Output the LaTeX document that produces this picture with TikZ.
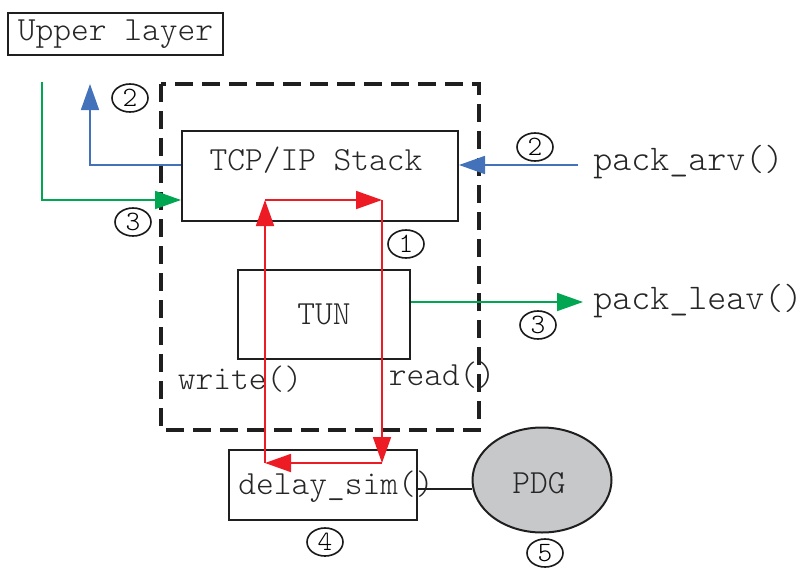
\documentclass[tikz,border=0pt]{standalone}
\usepackage{fontspec}
\setmonofont{Latin Modern Mono Light}
\usetikzlibrary{arrows.meta,positioning,shapes.geometric}
\definecolor{flowRed}{RGB}{237,28,36}
\definecolor{flowBlue}{RGB}{68,114,186}
\definecolor{flowGreen}{RGB}{0,166,81}
\definecolor{pdgGray}{RGB}{199,200,202}
\tikzset{
  blockbox/.style={draw=black!88,line width=1pt,inner sep=0pt,text=black!85,font=\ttfamily\fontsize{16.9}{18}\selectfont},
  calllabel/.style={inner sep=0pt,text=black!85,font=\ttfamily\fontsize{16.9}{18}\selectfont},
  stepnum/.style={ellipse,draw=black!90,line width=0.8pt,inner sep=0pt,minimum width=18pt,minimum height=14pt,font=\ttfamily\fontsize{14}{15}\selectfont},
  flow/.style={line width=0.9pt,-{Triangle[length=13pt,width=9pt]}}
}

\begin{document}
\begin{tikzpicture}[x=0.5pt,y=-0.5pt]
\useasboundingbox (0,0) rectangle (804,568);
% blocks
\node[blockbox,minimum width=107.5pt,minimum height=21pt] (upper) at (115.5,34) {Upper layer};
\draw[black!88,line width=2pt,dash pattern=on 9pt off 4.5pt] (161,84) rectangle (479,430);
\node[blockbox,minimum width=138pt,minimum height=45pt] (tcp) at (320,176) {};
\node[calllabel] (tcptext) at (316,160) {TCP/IP Stack};
\node[blockbox,minimum width=86pt,minimum height=44.5pt] (tun) at (324,314.5) {TUN};
\node[blockbox,minimum width=94pt,minimum height=35pt] (delay) at (323,485) {};
\node[calllabel] (delaytext) at (336,487) {delay\_sim()};
\node[ellipse,draw=black!88,fill=pdgGray,line width=1pt,inner sep=0pt,minimum width=69.5pt,minimum height=52.5pt] (pdg) at (542,480) {};
\node[calllabel] (pdgtext) at (539,483) {PDG};
\node[calllabel] (write) at (240,379) {write()};
\node[calllabel] (read) at (442,375) {read()};
\node[calllabel,anchor=west,font=\ttfamily\fontsize{18.1}{19}\selectfont] (arv) at (593,162) {pack\_arv()};
\node[calllabel,anchor=west,font=\ttfamily\fontsize{18.1}{19}\selectfont] (leav) at (593,301) {pack\_leav()};
% free ends and corners
\coordinate (uptip) at (90,84);
\coordinate (downsrc) at (42,82);
\coordinate (greenturn) at (42,200);
\coordinate (arvsrc) at (578,165);
\coordinate (leavtip) at (583,302);
\coordinate (wbot) at (265,463);
\coordinate (wtop) at (265,200);
\coordinate (rtop) at (382,200);
\coordinate (rbot) at (382,463);
% connectors
\draw[flow,flowBlue] (tcp.west |- arvsrc) -| (uptip);
\draw[flow,flowBlue] (arvsrc) -- (tcp.east |- arvsrc);
\draw[flow,flowGreen] (downsrc) |- (tcp.west |- greenturn);
\draw[flow,flowGreen] ([yshift=6.25pt]tun.east) -- (leavtip);
\draw[flow,flowRed] (wbot) -- (wtop);
\draw[flow,flowRed] (wtop) -- (rtop);
\draw[flow,flowRed] (rtop) -- (rbot);
\draw[flow,flowRed] (rbot) -- (wbot);
\draw[black!88,line width=1pt] ([yshift=-2pt]delay.east) -- ([yshift=-2pt]delay.east -| pdg.west);
% step numbers
\node[stepnum] (s2a) at (130,98) {2};
\node[stepnum] (s3a) at (133,222) {3};
\node[stepnum] (s1) at (406,244) {1};
\node[stepnum] (s2b) at (535,147) {2};
\node[stepnum] (s3b) at (538,325) {3};
\node[stepnum] (s4) at (325,542) {4};
\node[stepnum] (s5) at (545,553) {5};
\end{tikzpicture}
\end{document}
